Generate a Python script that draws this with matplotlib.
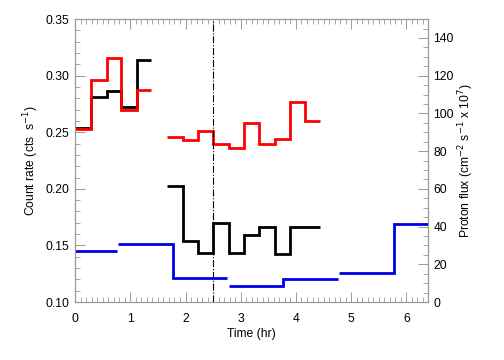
import numpy as np
import matplotlib.pyplot as plt
from matplotlib.ticker import MultipleLocator

plt.rcParams['font.family'] = ['Liberation Sans', 'DejaVu Sans']

# count rate, first observation (hr edges, cts/s)
edges1 = [0, 0.29, 0.57, 0.83, 1.12, 1.38]
red1 = [0.2528, 0.296, 0.316, 0.2695, 0.287]
black1 = [0.2535, 0.281, 0.2863, 0.2725, 0.3137]

# count rate, second observation
edges2 = [1.67, 1.95, 2.22, 2.50, 2.785, 3.06, 3.33, 3.62, 3.89, 4.17, 4.44]
red2 = [0.246, 0.243, 0.2513, 0.240, 0.2357, 0.2578, 0.240, 0.2439, 0.2769, 0.2601]
black2 = [0.2024, 0.1539, 0.1436, 0.170, 0.143, 0.159, 0.166, 0.1424, 0.166, 0.166]

# proton flux (cm^-2 s^-1 x 10^7)
flux_edges = [[0, 0.765], [0.783, 1.77, 2.76], [2.78, 3.77, 4.76], [4.78, 5.77, 6.8]]
flux_vals = [[26.9], [30.8, 13.0], [8.6, 12.2], [15.2, 41.6]]

t_line = 2.5

fig = plt.figure(figsize=(5.04, 3.6), dpi=100)
ax = fig.add_axes([0.149, 0.161, 0.700, 0.786])
ax2 = ax.twinx()

lw = 2.0
ax.stairs(black1, edges1, color='black', lw=lw, baseline=None)
ax.stairs(red1, edges1, color='#ff0000', lw=lw, baseline=None)
ax.stairs(black2, edges2, color='black', lw=lw, baseline=None)
ax.stairs(red2, edges2, color='#ff0000', lw=lw, baseline=None)
ax.axvline(t_line, color='black', lw=0.8, ls='-.')

for e, v in zip(flux_edges, flux_vals):
    ax2.stairs(v, e, color='#0000e6', lw=lw, baseline=None)

ax.set_xlim(0, 6.39)
ax.set_ylim(0.10, 0.35)
ax2.set_ylim(0, 150)

ax.xaxis.set_major_locator(MultipleLocator(1))
ax.xaxis.set_minor_locator(MultipleLocator(0.1))
ax.yaxis.set_major_locator(MultipleLocator(0.05))
ax.yaxis.set_minor_locator(MultipleLocator(0.01))
ax2.yaxis.set_major_locator(MultipleLocator(20))
ax2.yaxis.set_minor_locator(MultipleLocator(5))
ax.yaxis.set_major_formatter(plt.FormatStrFormatter('%.2f'))

fs = 8.7
gc = '#999999'
for a in (ax, ax2):
    for s in a.spines.values():
        s.set_color(gc)
        s.set_linewidth(0.8)
ax.tick_params(axis='x', which='both', direction='in', top=True, color=gc, labelsize=fs, pad=8)
ax.tick_params(axis='y', which='both', direction='in', color=gc, labelsize=fs, pad=4)
ax2.tick_params(axis='y', which='both', direction='in', color=gc, labelsize=fs, pad=4)
for a in (ax, ax2):
    a.tick_params(which='major', length=7, width=0.7)
    a.tick_params(which='minor', length=3.5, width=0.6)

ax.set_xlabel('Time (hr)', fontsize=fs, labelpad=2)
ax.set_ylabel('Count rate (cts  s$^{-1}$)', fontsize=fs, labelpad=3)
ax2.set_ylabel('Proton flux (cm$^{-2}$ s$^{-1}$ x 10$^7$)', fontsize=fs, labelpad=2)

fig.savefig('out.png', dpi=100)
